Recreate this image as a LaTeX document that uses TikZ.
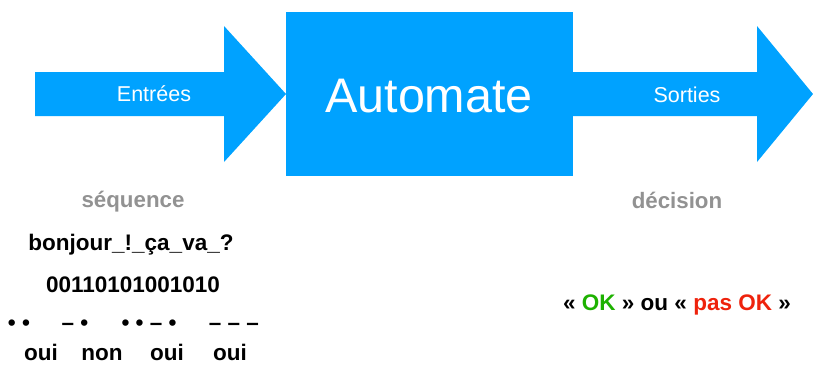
\documentclass[tikz,border=0pt]{standalone}
\usepackage{fontspec}
\setmainfont{Liberation Sans}
\definecolor{kblue}{HTML}{00A2FF}
\definecolor{kgreen}{HTML}{1DB100}
\definecolor{kred}{HTML}{EE220C}
\definecolor{kgray}{HTML}{929292}
\begin{document}
\begin{tikzpicture}[x=1pt,y=-1pt,
  lbl/.style={text=white, font=\fontsize{21.5}{21.5}\selectfont, anchor=base, inner sep=0pt},
  bigl/.style={text=white, font=\fontsize{48.5}{48.5}\selectfont, anchor=base, inner sep=0pt},
  captn/.style={text=kgray, font=\bfseries\fontsize{22.3}{22.3}\selectfont, anchor=base, inner sep=0pt},
  txt/.style={text=black, font=\bfseries\fontsize{22.5}{22.5}\selectfont, anchor=base, inner sep=0pt}]
\useasboundingbox (0,0) rectangle (813,365);
% shapes
\fill[kblue] (35,72) -- (224,72) -- (224,26) -- (286,94) -- (224,162) -- (224,116) -- (35,116) -- cycle;
\fill[kblue] (286,12) rectangle (573,176);
\fill[kblue] (573,72) -- (757,72) -- (757,26) -- (813,94) -- (757,162) -- (757,116) -- (573,116) -- cycle;
% labels
\node[lbl] (entrees) at (154,101.5) {Entrées};
\node[bigl] (automate) at (429,112) {Automate};
\node[lbl] (sorties) at (687,102) {Sorties};
\node[captn] (sequence) at (133,207.5) {séquence};
\node[captn] (decision) at (677,208) {décision};
\node[txt] (bonjour) at (131,250) {bonjour\_!\_ça\_va\_?};
\node[txt] (bits) at (133,292) {00110101001010};
\node[txt] (m1) at (19,330) {• •};
\node[txt] (m2) at (75,330) {– •};
\node[txt] (m3) at (149,330) {• • – •};
\node[txt] (m4) at (234,330) {– – –};
\node[txt] (r1) at (41,360) {oui};
\node[txt] (r2) at (102,360) {non};
\node[txt] (r3) at (167,360) {oui};
\node[txt] (r4) at (230,360) {oui};
\node[txt] (verdict) at (677,310) {« \textcolor{kgreen}{OK} » ou « \textcolor{kred}{pas OK} »};
\end{tikzpicture}
\end{document}
